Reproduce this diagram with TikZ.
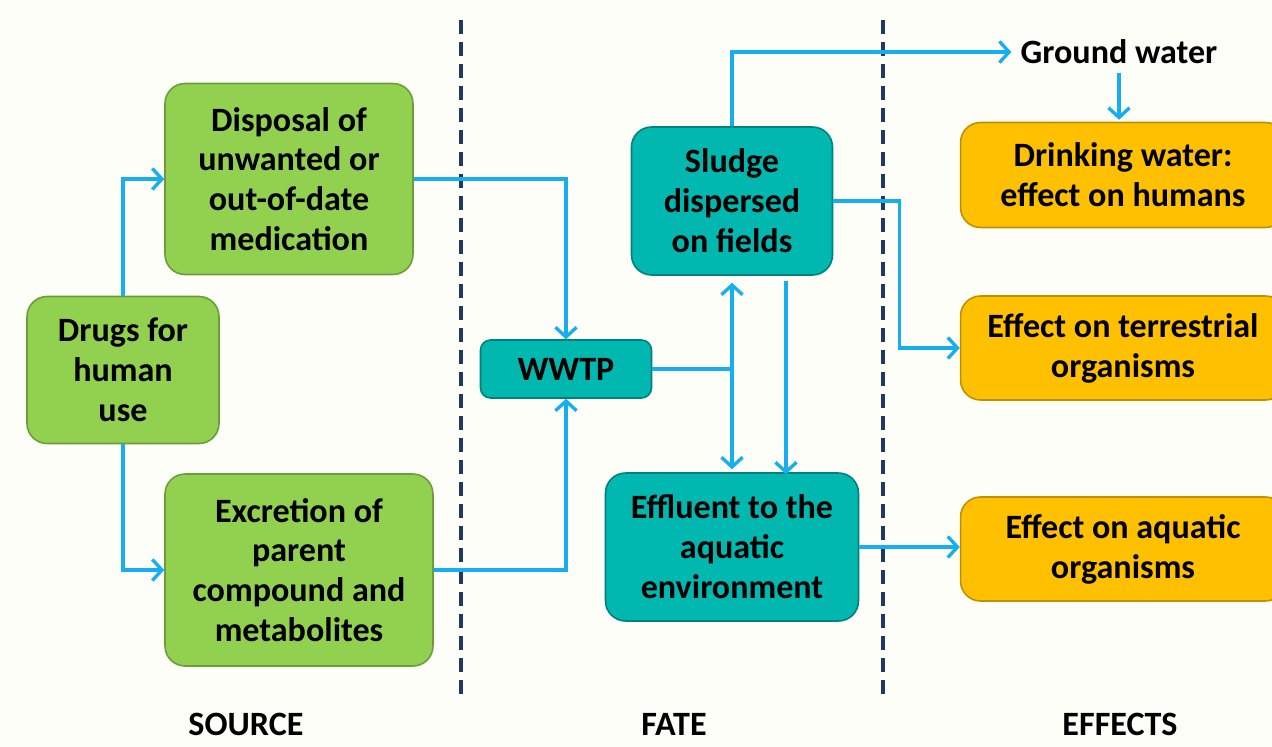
\documentclass[tikz,border=0pt]{standalone}
\usepackage{fontspec}
\setmainfont{Carlito}
\usetikzlibrary{arrows.meta}
\definecolor{leaf}{RGB}{146,208,80}
\definecolor{sea}{RGB}{0,184,176}
\definecolor{amber}{RGB}{255,192,0}
\definecolor{pipe}{RGB}{22,174,240}
\definecolor{navy}{RGB}{31,56,100}
\definecolor{paper}{RGB}{253,254,248}
\tikzset{
  boxfont/.style={font=\fontsize{19.4}{22.7}\selectfont\bfseries},
  box/.style={rounded corners=0.4cm,align=center,boxfont,inner sep=0pt},
  srcbox/.style={box,fill=leaf,draw=leaf!75!black,line width=0.9pt},
  fatebox/.style={box,fill=sea,draw=sea!70!black,line width=0.9pt},
  effbox/.style={box,fill=amber,draw=amber!75!black,line width=0.9pt},
  barb/.tip={Straight Barb[length=5.5pt,width=12pt,line width=1.9pt]},
  flow/.style={draw=pipe,line width=1.9pt,-barb},
  twoway/.style={draw=pipe,line width=1.9pt,barb-barb},
  divider/.style={draw=navy,line width=1.9pt,dash pattern=on 0.28cm off 0.16cm},
  heading/.style={boxfont,anchor=base,inner sep=0pt}
}
\begin{document}
\begin{tikzpicture}[x=0.02cm,y=-0.02cm]
\useasboundingbox (0,0) rectangle (1272,747);
\clip (0,0) rectangle (1272,747);
\fill[paper] (0,0) rectangle (1272,747);
% column dividers
\draw[divider] (461,20) -- (461,697);
\draw[divider] (883,20) -- (883,697);
% source
\node[srcbox,minimum width=3.84cm,minimum height=2.94cm] (drugs) at (123,370) {Drugs for\\human\\use};
\node[srcbox,minimum width=4.96cm,minimum height=3.82cm] (disposal) at (289,179) {Disposal of\\unwanted or\\out-of-date\\medication};
\node[srcbox,minimum width=5.36cm,minimum height=3.84cm] (excretion) at (299,570) {Excretion of\\parent\\compound and\\metabolites};
% fate
\node[fatebox,rounded corners=0.2cm,minimum width=3.42cm,minimum height=1.16cm] (wwtp) at (566,369) {WWTP};
\node[fatebox,minimum width=4.02cm,minimum height=2.96cm] (sludge) at (732,201) {Sludge\\dispersed\\on fields};
\node[fatebox,minimum width=5.06cm,minimum height=2.96cm] (effluent) at (732,547) {Effluent to the\\aquatic\\environment};
% effects
\node[boxfont,inner sep=0.18cm] (ground) at (1119,52) {Ground water};
\node[effbox,minimum width=6.5cm,minimum height=2.1cm] (drinking) at (1123,175) {Drinking water:\\effect on humans};
\node[effbox,minimum width=6.5cm,minimum height=2.08cm] (terr) at (1123,348) {Effect on terrestrial\\organisms};
\node[effbox,minimum width=6.5cm,minimum height=2.08cm] (aqua) at (1123,549) {Effect on aquatic\\organisms};
% connectors
\draw[flow] (drugs.north) |- (disposal.west);
\draw[flow] (drugs.south) |- (excretion.west);
\draw[flow] (disposal.east) -| (wwtp.north);
\draw[flow] (excretion.east) -| (wwtp.south);
\coordinate (jn) at (732,369);
\draw[draw=pipe,line width=1.9pt] (wwtp.east) -- (jn);
\draw[twoway,shorten <=0.14cm,shorten >=0.06cm] (sludge.south) -- (effluent.north);
\draw[flow,shorten <=0.1cm,shorten >=-0.04cm] ([xshift=1.08cm]sludge.south) -- ([xshift=1.08cm]sludge.south |- effluent.north);
\draw[flow] (sludge.north) |- (ground.west);
\draw[flow,shorten >=0.04cm] (ground.south) -- (ground.south |- drinking.north);
\draw[flow] (sludge.east) -- ++(66,0) |- (terr.west);
\draw[flow] (effluent.east) -- (effluent.east -| aqua.west);
% column headings
\node[heading] (src) at (246,735) {SOURCE};
\node[heading] (fate) at (674,735) {FATE};
\node[heading] (eff) at (1120,735) {EFFECTS};
\end{tikzpicture}
\end{document}
